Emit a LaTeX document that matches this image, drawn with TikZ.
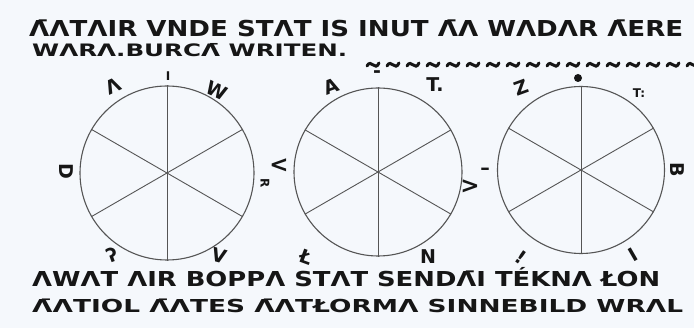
\documentclass[tikz,border=0pt]{standalone}
\usepackage{fontspec}
\usepackage{graphicx}
\newfontfamily\hw{DejaVu Sans}
\definecolor{paper}{RGB}{245,248,252}
\definecolor{ink}{RGB}{22,22,22}
\definecolor{pen}{RGB}{85,85,85}
\newcommand\fitline[3]{\resizebox{#1}{#2}{\raisebox{0pt}[\fontcharht\font`T][0pt]{#3}}}
\tikzset{
  txt/.style={anchor=base west, inner sep=0pt, text=ink, font=\hw\bfseries},
  lbl/.style={inner sep=0pt, text=ink, font=\hw\bfseries\fontsize{19}{19}\selectfont},
  blbl/.style={inner sep=0pt, text=ink, font=\hw\bfseries\fontsize{23}{23}\selectfont},
  slbl/.style={inner sep=0pt, text=ink, font=\hw\bfseries\fontsize{12}{12}\selectfont},
  wheel/.style={circle, draw=pen, line width=1.1pt, inner sep=0pt},
  spoke/.style={draw=pen, line width=0.9pt},
  wave/.style={draw=ink, line width=3pt, line cap=round}
}
\begin{document}
\begin{tikzpicture}[x=1pt,y=-1pt]
\path[use as bounding box, fill=paper] (0,0) rectangle (694,328);
% text lines
\node[txt] (l1) at (29,37) {\fitline{654pt}{16pt}{Λ̄ΛTΛIR VNDE STΛT IS INUT Λ̄Λ WΛDΛR Λ̄ERE}};
\node[txt] (l2) at (32,57) {\fitline{315pt}{12.5pt}{WΛRΛ.BURCΛ̄ WRITEN.}};
\node[txt] (l3) at (32,287) {\fitline{628pt}{15pt}{ΛWΛT ΛIR BOPPΛ STΛT SENDΛ̄I TÉKNΛ ŁON}};
\node[txt] (l4) at (32,313) {\fitline{651pt}{13pt}{Λ̄ΛTIOL Λ̄ΛTES Λ̄ΛTŁORMΛ SINNEBILD WRΛL}};
% wavy dashes
\foreach \x in {373,393,...,693} {
  \draw[wave] (\x-6,66) .. controls (\x-2,58) and (\x+2,72) .. (\x+6,63);
}
% wheels
\node[wheel, minimum size=174pt] (c1) at (167,173) {};
\node[wheel, minimum size=168pt] (c2) at (378,172) {};
\node[wheel, minimum size=167pt] (c3) at (581,170) {};
\foreach \c in {c1,c2,c3} {
  \draw[spoke] (\c.90) -- (\c.270);
  \draw[spoke] (\c.30) -- (\c.210);
  \draw[spoke] (\c.150) -- (\c.330);
}
% labels wheel 1
\node[slbl] (a1) at (168,76) {I};
\node[lbl, rotate=25] (a2) at (113,86) {Λ};
\node[lbl, rotate=-25] (a3) at (217,91) {W};
\node[lbl, rotate=-90] (a4) at (66,171) {D};
\node[slbl, rotate=-90] (a5) at (265,183) {R};
\node[lbl, rotate=20] (a6) at (112,255) {ʔ};
\node[lbl, rotate=-15] (a7) at (219,256) {V};
% labels wheel 2
\node[blbl] (b0) at (279,166) {<};
\node[lbl] (b1) at (377,74) {-};
\node[lbl, rotate=20] (b2) at (331,86) {A};
\node[lbl] (b3) at (435,85) {T.};
\node[blbl] (b4) at (470,187) {>};
\node[lbl, rotate=-20] (b5) at (306,257) {Ł};
\node[lbl] (b6) at (428,257) {N};
% labels wheel 3
\node[lbl] (d0) at (485,171) {–};
\node[circle, fill=ink, minimum width=8pt, inner sep=0pt] (d1) at (578,78) {};
\node[lbl, rotate=20] (d2) at (521,88) {Z};
\node[slbl] (d3) at (639,93) {T:};
\node[lbl, rotate=-90] (d4) at (677,170) {B};
\node[lbl, rotate=-35] (d5) at (521,257) {!};
\node[lbl, rotate=30] (d6) at (633,255) {I};
\end{tikzpicture}
\end{document}
